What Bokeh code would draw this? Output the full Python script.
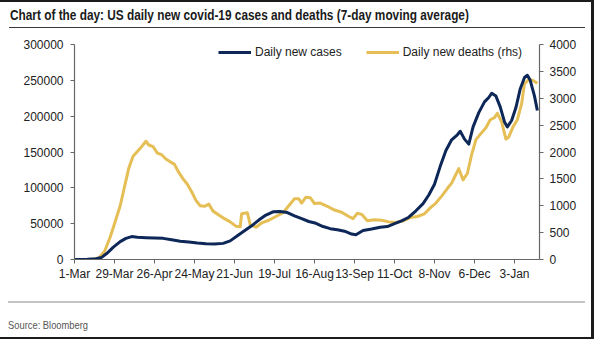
import pandas as pd
from bokeh.plotting import figure
from bokeh.models import (ColumnDataSource, LinearAxis, Range1d, FixedTicker,
                          Legend, LegendItem, Div, BasicTickFormatter)
from bokeh.layouts import column, row
from bokeh.embed import file_html
from bokeh.resources import INLINE

# ---------------- data ----------------
case_dates = ["2020-03-01", "2020-03-10", "2020-03-16", "2020-03-20", "2020-03-24", "2020-03-28",
              "2020-04-02", "2020-04-06", "2020-04-10", "2020-04-14", "2020-04-20", "2020-04-26",
              "2020-05-02", "2020-05-08", "2020-05-14", "2020-05-20", "2020-05-26", "2020-06-01",
              "2020-06-07", "2020-06-13", "2020-06-18", "2020-06-23", "2020-06-28", "2020-07-03",
              "2020-07-08", "2020-07-13", "2020-07-18", "2020-07-23", "2020-07-28", "2020-08-02",
              "2020-08-07", "2020-08-12", "2020-08-17", "2020-08-22", "2020-08-27", "2020-09-01",
              "2020-09-06", "2020-09-11", "2020-09-14", "2020-09-19", "2020-09-25", "2020-10-01",
              "2020-10-06", "2020-10-11", "2020-10-16", "2020-10-21", "2020-10-26", "2020-10-31",
              "2020-11-04", "2020-11-08", "2020-11-12", "2020-11-16", "2020-11-20", "2020-11-24",
              "2020-11-26", "2020-11-29", "2020-12-02", "2020-12-05", "2020-12-09", "2020-12-13",
              "2020-12-16", "2020-12-18", "2020-12-21", "2020-12-24", "2020-12-27", "2020-12-29",
              "2021-01-01", "2021-01-04", "2021-01-07", "2021-01-10", "2021-01-12", "2021-01-14",
              "2021-01-17", "2021-01-19"]
cases = [0, 200, 1000, 3000, 9000, 17000,
         25000, 29500, 32000, 31000, 30500, 30000,
         29500, 27500, 25500, 24500, 23000, 22000,
         21500, 22500, 26000, 33000, 40000, 47000,
         55000, 62000, 66500, 67000, 65500, 61000,
         57000, 53000, 50500, 46000, 43000, 41500,
         39500, 35500, 34500, 40500, 42500, 45000,
         46000, 50000, 54000, 59000, 68000, 78000,
         90000, 105000, 130000, 152000, 167000, 174000,
         179000, 168000, 161000, 185000, 205000, 220000,
         226000, 232000, 228000, 213000, 192000, 185000,
         194000, 212000, 238000, 254000, 257000, 250000,
         228000, 208000]

death_dates = ["2020-03-01", "2020-03-14", "2020-03-18", "2020-03-22", "2020-03-26", "2020-03-30",
               "2020-04-02", "2020-04-05", "2020-04-08", "2020-04-11", "2020-04-14", "2020-04-17",
               "2020-04-20", "2020-04-22", "2020-04-25", "2020-04-28", "2020-05-01", "2020-05-04",
               "2020-05-07", "2020-05-10", "2020-05-13", "2020-05-16", "2020-05-19", "2020-05-22",
               "2020-05-25", "2020-05-28", "2020-05-31", "2020-06-03", "2020-06-06", "2020-06-10",
               "2020-06-14", "2020-06-18", "2020-06-22", "2020-06-25", "2020-06-26", "2020-06-30",
               "2020-07-02", "2020-07-06", "2020-07-10", "2020-07-15", "2020-07-20", "2020-07-25",
               "2020-07-29", "2020-08-02", "2020-08-05", "2020-08-07", "2020-08-10", "2020-08-13",
               "2020-08-16", "2020-08-20", "2020-08-25", "2020-08-30", "2020-09-04", "2020-09-09",
               "2020-09-12", "2020-09-15", "2020-09-18", "2020-09-22", "2020-09-27", "2020-10-02",
               "2020-10-07", "2020-10-12", "2020-10-17", "2020-10-22", "2020-10-27", "2020-11-01",
               "2020-11-05", "2020-11-09", "2020-11-13", "2020-11-17", "2020-11-20", "2020-11-22",
               "2020-11-25", "2020-11-28", "2020-12-01", "2020-12-04", "2020-12-07", "2020-12-11",
               "2020-12-14", "2020-12-17", "2020-12-20", "2020-12-22", "2020-12-25", "2020-12-28",
               "2020-12-30", "2021-01-02", "2021-01-05", "2021-01-08", "2021-01-10", "2021-01-13",
               "2021-01-16", "2021-01-19"]
deaths = [0, 5, 30, 150, 420, 750,
          1000, 1350, 1700, 1920, 2010, 2100,
          2200, 2130, 2100, 1980, 1950, 1870,
          1820, 1770, 1620, 1500, 1400, 1260,
          1100, 1000, 990, 1030, 900, 830,
          760, 700, 620, 610, 850, 870,
          650, 600, 680, 730, 800, 870,
          1000, 1130, 1130, 1050, 1160, 1150,
          1040, 1050, 990, 920, 880, 800,
          760, 860, 840, 720, 740, 730,
          700, 690, 720, 780, 800, 850,
          960, 1050, 1180, 1320, 1420, 1530,
          1690, 1480, 1600, 1950, 2230, 2360,
          2450, 2600, 2640, 2720, 2560, 2240,
          2280, 2470, 2600, 2900, 3270, 3350,
          3330, 3280]

tick_dates = ["2020-03-01", "2020-03-29", "2020-04-26", "2020-05-24", "2020-06-21", "2020-07-19",
              "2020-08-16", "2020-09-13", "2020-10-11", "2020-11-08", "2020-12-06", "2021-01-03"]
tick_labels = ["1-Mar", "29-Mar", "26-Apr", "24-May", "21-Jun", "19-Jul",
               "16-Aug", "13-Sep", "11-Oct", "8-Nov", "6-Dec", "3-Jan"]
left_ticks = [0, 50000, 100000, 150000, 200000, 250000, 300000]
right_ticks = [0, 500, 1000, 1500, 2000, 2500, 3000, 3500, 4000]

title_text = "Chart of the day: US daily new covid-19 cases and deaths (7-day moving average)"
source_text = "Source: Bloomberg"
cases_label = "Daily new cases"
deaths_label = "Daily new deaths (rhs)"

# ---------------- styling ----------------
NAVY = "#0c2758"
GOLD = "#e5bf55"
FONT = "'Liberation Sans', Arial, sans-serif"
NARROW = "'Liberation Sans Narrow', 'Liberation Sans', Arial, sans-serif"

src_c = ColumnDataSource(dict(x=pd.to_datetime(case_dates), y=cases))
src_d = ColumnDataSource(dict(x=pd.to_datetime(death_dates), y=deaths))

p = figure(width=591, height=268, x_axis_type="datetime",
           x_range=Range1d(pd.Timestamp("2020-03-01"), pd.Timestamp("2021-01-20 12:00")),
           y_range=Range1d(0, 300000),
           output_backend="svg", toolbar_location=None, tools="")
p.margin = 0
p.min_border_left = 74
p.min_border_right = 52
p.min_border_top = 14
p.min_border_bottom = 39
p.outline_line_color = None
p.xgrid.grid_line_color = None
p.ygrid.grid_line_color = None
p.background_fill_color = "white"
p.border_fill_color = "white"

p.extra_y_ranges = {"deaths": Range1d(0, 4000)}

r_d = p.line("x", "y", source=src_d, y_range_name="deaths", line_color=GOLD,
             line_width=3, line_join="round")
r_c = p.line("x", "y", source=src_c, line_color=NAVY, line_width=3, line_join="round")

tick_ms = [pd.Timestamp(d).value / 1e6 for d in tick_dates]
xa = p.xaxis[0]
xa.ticker = FixedTicker(ticks=tick_ms)
xa.major_label_overrides = {t: l for t, l in zip(tick_ms, tick_labels)}

ya = p.yaxis[0]
ya.ticker = FixedTicker(ticks=left_ticks)
ya.formatter = BasicTickFormatter(use_scientific=False)

ra = LinearAxis(y_range_name="deaths", ticker=FixedTicker(ticks=right_ticks),
                formatter=BasicTickFormatter(use_scientific=False))
p.add_layout(ra, "right")

for ax in (xa, ya, ra):
    ax.axis_line_color = "#666666"
    ax.axis_line_width = 1.2
    ax.major_tick_line_color = "#666666"
    ax.major_tick_out = 4
    ax.major_tick_in = 0
    ax.minor_tick_line_color = None
    ax.major_label_text_font = FONT
    ax.major_label_text_font_size = "12px"
    ax.major_label_text_color = "#222222"
xa.major_label_standoff = 3
ya.major_label_standoff = 7
ra.major_label_standoff = 6

legend = Legend(items=[LegendItem(label=cases_label, renderers=[r_c]),
                       LegendItem(label=deaths_label, renderers=[r_d])],
                orientation="horizontal", location=(144, 200))
legend.glyph_width = 33
legend.glyph_height = 14
legend.label_height = 14
legend.label_standoff = 4
legend.spacing = 24
legend.padding = 0
legend.margin = 0
legend.border_line_color = None
legend.background_fill_alpha = 0
legend.label_text_font = FONT
legend.label_text_font_size = "12px"
legend.label_text_color = "#222222"
p.add_layout(legend)

title_div = Div(width=591, height=30, margin=0, text=(
    '<div style="position:relative;width:591px;height:30px;box-sizing:border-box;'
    'border-top:2px solid #1b1b1b;overflow:hidden;">'
    '<div style="position:absolute;left:10px;top:3px;white-space:nowrap;'
    'transform:scaleX(0.845);transform-origin:0 0;'
    f'font-family:{NARROW};font-weight:bold;font-size:14px;color:#1a1a1a;">{title_text}</div>'
    '<div style="position:absolute;left:9px;right:6px;top:25px;border-top:1.5px solid #3a3a3a;"></div>'
    '</div>'))

foot_div = Div(width=591, height=41, margin=0, text=(
    '<div style="position:relative;width:591px;height:41px;box-sizing:border-box;'
    'border-bottom:2px solid #1b1b1b;overflow:hidden;">'
    '<div style="position:absolute;left:8px;right:6px;top:3px;border-top:2px solid #c4c4c4;"></div>'
    f'<div style="position:absolute;left:8px;top:20px;white-space:nowrap;font-family:{NARROW};'
    'transform:scaleX(0.85);transform-origin:0 0;'
    f'font-size:11px;color:#555555;">{source_text}</div>'
    '</div>'))

bar_div = Div(width=3, height=339, margin=0, text=(
    '<div style="width:3px;height:339px;background:#1b1b1b;"></div>'))

col = column(title_div, p, foot_div, spacing=0, margin=0)
layout = row(col, bar_div, spacing=0, margin=0)

with open("out.html", "w") as f:
    f.write(file_html(layout, INLINE))
